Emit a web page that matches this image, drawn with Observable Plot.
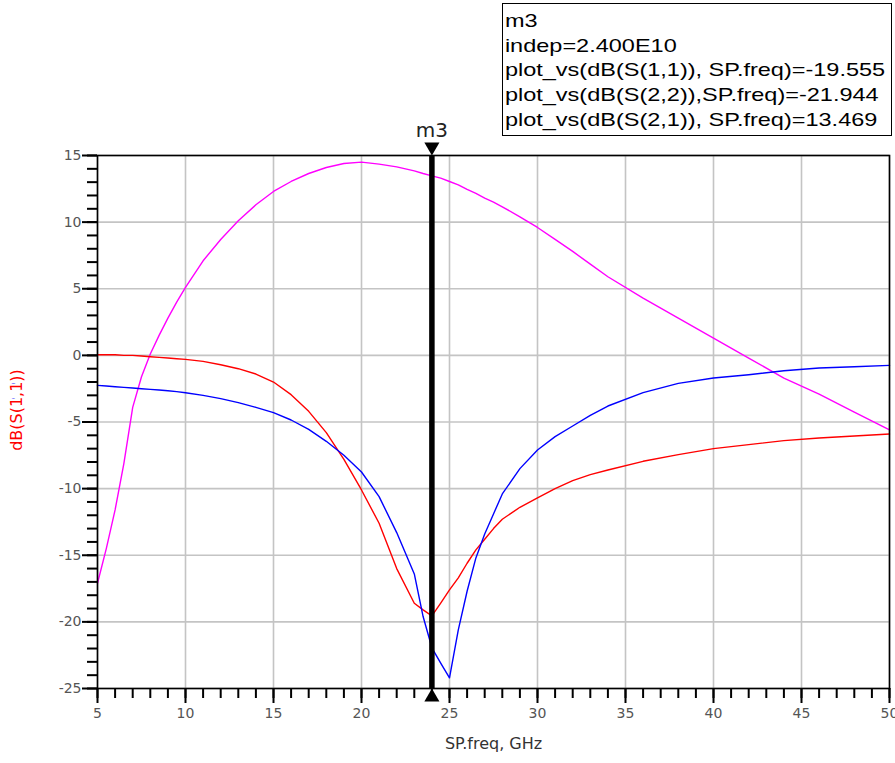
<!DOCTYPE html>
<html>
<head>
<meta charset="utf-8">
<script src="https://cdn.jsdelivr.net/npm/d3@7"></script>
<script src="https://cdn.jsdelivr.net/npm/@observablehq/plot@0.6"></script>
<style>
  html, body { margin: 0; padding: 0; background: #fff; }
  #wrap { position: relative; width: 895px; height: 763px; overflow: hidden; }
  #readout {
    position: absolute; left: 502px; top: 3px; width: 388px; height: 131px;
    border: 1.5px solid #000; background: #fff; box-sizing: content-box;
  }
  #readout .inner {
    transform: scaleX(1.27); transform-origin: 0 0;
    font-family: "Liberation Sans", Arial, sans-serif; font-size: 18.5px;
    line-height: 24.7px; padding: 5px 0 0 1.5px; white-space: nowrap; color: #000;
  }
  .ylab {
    position: absolute; left: 17px; top: 410px; white-space: nowrap;
    font-family: "DejaVu Sans", sans-serif; font-size: 16px; line-height: 16px;
    transform: translate(-50%, -50%) rotate(-90deg);
  }
  .ylab.front { color: #ff0000;
    text-shadow: 1px 0 0 #fff, -1px 0 0 #fff, 0 1px 0 #fff, 0 -1px 0 #fff,
                 1px 1px 0 #fff, -1px -1px 0 #fff, 1px -1px 0 #fff, -1px 1px 0 #fff,
                 2px 0 0 #fff, -2px 0 0 #fff, 0 2px 0 #fff, 0 -2px 0 #fff; }
  .ylab.back { color: #0000ff; }
</style>
</head>
<body>
<div id="wrap"><div id="chart"></div><div class="ylab back"></div><div class="ylab front"></div><div id="readout"><div class="inner"></div></div></div>
<script>
// ---- data ----
const freq = [5, 5.5, 6, 6.5, 7, 7.5, 8, 8.5, 9, 9.5, 10, 11, 12, 13, 14, 15, 16, 17, 18, 19, 20, 21, 22, 23, 23.5, 24, 24.5, 25, 25.5, 26, 26.5, 27, 27.5, 28, 29, 30, 31, 32, 33, 34, 36, 38, 40, 42, 44, 46, 48, 50];
const s11 = [0.05, 0.05, 0.05, 0.0, 0.0, -0.05, -0.1, -0.15, -0.2, -0.25, -0.3, -0.45, -0.7, -1.0, -1.4, -2.0, -2.95, -4.2, -5.8, -7.8, -10.1, -12.6, -16.0, -18.6, -19.1, -19.555, -18.6, -17.6, -16.7, -15.6, -14.6, -13.8, -13.0, -12.3, -11.4, -10.7, -10.0, -9.4, -8.95, -8.6, -7.95, -7.45, -7.0, -6.7, -6.4, -6.2, -6.05, -5.9];
const s22 = [-2.25, -2.3, -2.35, -2.4, -2.45, -2.5, -2.55, -2.6, -2.65, -2.72, -2.8, -3.0, -3.25, -3.55, -3.9, -4.3, -4.85, -5.55, -6.45, -7.5, -8.75, -10.6, -13.3, -16.4, -19.6, -21.944, -23.1, -24.2, -20.6, -17.7, -15.2, -13.4, -11.9, -10.4, -8.5, -7.1, -6.1, -5.3, -4.5, -3.8, -2.8, -2.1, -1.7, -1.45, -1.15, -0.95, -0.85, -0.75];
const s21 = [-17.1, -14.5, -11.6, -8.1, -3.9, -1.6, 0.1, 1.5, 2.8, 4.0, 5.1, 7.1, 8.7, 10.1, 11.3, 12.3, 13.05, 13.65, 14.1, 14.4, 14.5, 14.35, 14.15, 13.85, 13.65, 13.469, 13.3, 13.05, 12.8, 12.45, 12.15, 11.8, 11.5, 11.15, 10.4, 9.6, 8.7, 7.8, 6.85, 5.9, 4.3, 2.8, 1.3, -0.2, -1.7, -2.9, -4.25, -5.6];

const seriesNames = ["dB(S(1,1))", "dB(S(2,2))", "dB(S(2,1))"];
const seriesColors = ["#ff0000", "#0000ff", "#ff00ff"];
const readoutNames = ["plot_vs(dB(S(1,1)), SP.freq)", "plot_vs(dB(S(2,2)),SP.freq)", "plot_vs(dB(S(2,1)), SP.freq)"];
const markerName = ["m3"];
const markerFreq = [24];
const markerValues = [-19.555, -21.944, 13.469];

const xTicks = [5, 10, 15, 20, 25, 30, 35, 40, 45, 50];
const yTicks = [-25, -20, -15, -10, -5, 0, 5, 10, 15];
const xMinor = d3.range(5, 50.01, 1);
const yMinor = d3.range(-25, 15.01, 1);
const xLabel = ["SP.freq, GHz"];

// ---- build table ----
const allSeries = [s11, s22, s21];
const rows = [];
allSeries.forEach((vals, k) => freq.forEach((f, i) => rows.push({f, v: vals[i], s: seriesNames[k]})));
const drawOrder = [2, 0, 1];

const downTri = {draw(ctx, size) {
  const y = Math.sqrt(size / (Math.sqrt(3) * 3));
  ctx.moveTo(0, 2 * y); ctx.lineTo(-Math.sqrt(3) * y, -y); ctx.lineTo(Math.sqrt(3) * y, -y); ctx.closePath();
}};
const upTri = {draw(ctx, size) {
  const y = Math.sqrt(size / (Math.sqrt(3) * 3));
  ctx.moveTo(0, -2 * y); ctx.lineTo(-Math.sqrt(3) * y, y); ctx.lineTo(Math.sqrt(3) * y, y); ctx.closePath();
}};

const fmt = d => String(d);

const chart = Plot.plot({
  width: 895, height: 763,
  marginLeft: 97, marginRight: 6, marginTop: 155, marginBottom: 75,
  style: {fontFamily: "DejaVu Sans, sans-serif", background: "transparent", overflow: "visible"},
  x: {domain: [5, 50], axis: null},
  y: {domain: [-25, 15], axis: null},
  marks: [
    Plot.gridX(xTicks, {stroke: "#c4c4c4", strokeOpacity: 1, strokeWidth: 1.6}),
    Plot.gridY(yTicks, {stroke: "#c4c4c4", strokeOpacity: 1, strokeWidth: 1.6}),
    ...drawOrder.map(k => Plot.line(rows.filter(r => r.s === seriesNames[k]), {x: "f", y: "v", stroke: seriesColors[k], strokeWidth: 1.4})),
    Plot.frame({stroke: "#000", strokeWidth: 1.6}),
    Plot.axisX(xMinor, {anchor: "bottom", tickSize: 10, tickFormat: () => "", label: null, stroke: "#000", strokeWidth: 2}),
    Plot.axisY(yMinor, {anchor: "left", tickSize: 10, tickFormat: () => "", label: null, stroke: "#000", strokeWidth: 2}),
    Plot.axisX(xTicks, {anchor: "bottom", tickSize: 15, tickPadding: 5, tickFormat: fmt, label: null, stroke: "#000", strokeWidth: 2, fill: "#555", fontSize: 14}),
    Plot.axisY(yTicks, {anchor: "left", tickSize: 15, tickPadding: 1, tickFormat: fmt, label: null, stroke: "#000", strokeWidth: 2, fill: "#555", fontSize: 14}),
    Plot.ruleX(markerFreq, {y1: 15, y2: -25, stroke: "#000", strokeWidth: 5.5}),
    Plot.dot(markerFreq, {x: d => d, y: 15, symbol: downTri, r: 5.6, fill: "#000", stroke: null, dy: -8.7}),
    Plot.dot(markerFreq, {x: d => d, y: -25, symbol: upTri, r: 5.6, fill: "#000", stroke: null, dy: 8.7}),
    Plot.text(markerFreq, {x: d => d, y: 15, text: (d, i) => markerName[i], dy: -25, fontSize: 20, fill: "#222"}),
    Plot.text(xLabel, {frameAnchor: "bottom", dy: 60, fill: "#333", fontSize: 16})
  ]
});
document.getElementById("chart").appendChild(chart);

// ---- y axis label (S22 in blue beneath S11 in red) ----
document.querySelector(".ylab.back").textContent = seriesNames[1];
document.querySelector(".ylab.front").textContent = seriesNames[0];

// ---- readout box ----
const lines = [markerName[0], "indep=" + (markerFreq[0] * 1e9).toExponential(3).toUpperCase().replace("E+", "E")]
  .concat(readoutNames.map((n, i) => n + "=" + markerValues[i].toFixed(3)));
const inner = document.querySelector("#readout .inner");
lines.forEach(t => { const d = document.createElement("div"); d.textContent = t; inner.appendChild(d); });
</script>
</body>
</html>
